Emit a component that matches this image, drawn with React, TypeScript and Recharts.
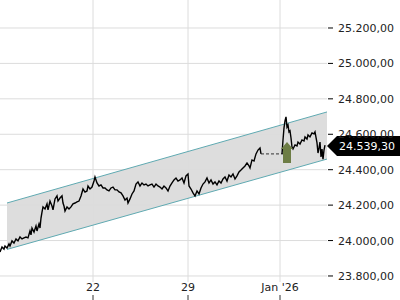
import React from 'react'
import {
  ComposedChart,
  Line,
  Area,
  XAxis,
  YAxis,
  ReferenceDot,
  ReferenceLine,
} from 'recharts'

// x axis: position in trading bars, with the day labels shown on it
const timeTicks = [93, 188, 280]
const timeLabels = ['22', '29', "Jan '26"]
const priceTicks = [23800, 24000, 24200, 24400, 24600, 24800, 25000, 25200]

// intraday quotes (null = market closed)
const times = [
  0, 2, 4, 5, 7, 9, 10, 12, 14, 16, 18, 20, 22, 24, 26, 28, 30, 31, 32, 34, 36, 37, 39, 40, 41, 42,
  43, 45, 47, 48, 50, 52, 53, 55, 57, 58, 60, 62, 63, 64, 65, 67, 69, 71, 73, 75, 77, 79, 81, 83,
  85, 87, 88, 90, 92, 94, 95, 97, 99, 101, 103, 105, 107, 109, 111, 113, 115, 117, 119, 121, 123,
  125, 127, 128, 130, 132, 134, 136, 138, 140, 142, 144, 146, 148, 150, 152, 154, 156, 158, 160,
  162, 164, 166, 168, 170, 172, 174, 176, 178, 180, 182, 184, 186, 188, 189, 191, 193, 195, 197,
  199, 201, 203, 205, 207, 209, 211, 213, 215, 217, 219, 221, 223, 225, 227, 229, 231, 233, 235,
  237, 239, 241, 243, 245, 247, 249, 250, 252, 254, 256, 258, 260, 261, 270, 282, 283, 284, 285,
  286, 287, 288, 289, 290, 291, 292, 293, 295, 297, 298, 300, 302, 304, 305, 307, 308, 310, 312,
  314, 315, 317, 318, 319, 320, 321, 322, 323, 324, 325,
]
const prices = [
  23936, 23964, 23952, 23969, 23958, 23981, 23969, 23998, 23986, 24009, 23998, 24020, 24009, 24015,
  24020, 24015, 24054, 24032, 24071, 24048, 24082, 24054, 24094, 24071, 24127, 24161, 24190, 24178,
  24207, 24173, 24223, 24195, 24173, 24235, 24252, 24223, 24240, 24252, 24212, 24195, 24167, 24190,
  24178, 24190, 24207, 24212, 24218, 24223, 24252, 24291, 24274, 24280, 24308, 24291, 24302, 24336,
  24359, 24325, 24308, 24314, 24297, 24297, 24286, 24280, 24297, 24302, 24286, 24286, 24274, 24269,
  24252, 24229, 24240, 24212, 24235, 24263, 24280, 24319, 24331, 24308, 24325, 24314, 24319, 24308,
  24314, 24319, 24302, 24319, 24308, 24302, 24291, 24308, 24297, 24280, 24308, 24325, 24342, 24353,
  24336, 24342, 24353, 24325, 24365, 24376, 24308, 24291, 24269, 24252, 24280, 24263, 24297, 24319,
  24331, 24353, 24325, 24342, 24319, 24331, 24314, 24336, 24325, 24348, 24359, 24336, 24370, 24359,
  24376, 24348, 24365, 24387, 24398, 24410, 24421, 24438, 24421, 24410, 24455, 24449, 24489, 24511,
  24523, 24489, null, 24489, 24568, 24636, 24675, 24698, 24641, 24652, 24613, 24619, 24579, 24528,
  24517, 24540, 24534, 24556, 24545, 24568, 24562, 24585, 24573, 24596, 24585, 24607, 24602, 24613,
  24551, 24494, 24523, 24556, 24472, 24517, 24460, 24511, 24539.3,
]

// regression channel
const channelTimes = [7, 327]
const channelUpper = [24212, 24726]
const channelLower = [23950, 24460]

// previous close carried over the holiday
const gapTimes = [261, 283]
const gapLevel = 24489

const markerTime = 287
const markerLevel = 24489
const lastPrice = 24539.3

const font = '"DejaVu Sans", Verdana, sans-serif'
const gridColor = '#dcdcdc'

const fmt = (v: number) => {
  const [i, d] = v.toFixed(2).split('.')
  return i.replace(/\B(?=(\d{3})+(?!\d))/g, '.') + ',' + d
}

const priceData = times.map((t, i) => ({ t, p: prices[i] }))
const channelData = channelTimes.map((t, i) => ({
  t,
  hi: channelUpper[i],
  lo: channelLower[i],
  band: [channelLower[i], channelUpper[i]],
}))
const gapData = gapTimes.map((t) => ({ t, g: gapLevel }))

const TimeTick = (props: any) => {
  const { x, y, payload } = props
  const label = timeLabels[timeTicks.indexOf(payload.value)]
  return (
    <g>
      <text x={x} y={y + 9} textAnchor="middle" fontSize={11} fill="#222" fontFamily={font}>
        {label}
      </text>
      <line x1={x} x2={x} y1={y + 13} y2={y + 18} stroke="#333" />
    </g>
  )
}

// dash + label, drawn together
const PriceTick = (props: any) => {
  const { x, y, payload } = props
  return (
    <g>
      <line x1={x + 1} x2={x + 6} y1={y} y2={y} stroke="#000" />
      <text x={x + 11} y={y + 4} textAnchor="start" fontSize={11} fill="#222" fontFamily={font}>
        {fmt(payload.value)}
      </text>
    </g>
  )
}

const UpMarker = (props: any) => {
  const { cx, cy } = props
  return (
    <path
      d={`M${cx},${cy - 12} L${cx + 6},${cy - 5} L${cx + 4},${cy - 5} L${cx + 4},${cy + 9} L${cx - 4},${cy + 9} L${cx - 4},${cy - 5} L${cx - 6},${cy - 5} Z`}
      fill="#6d7d45"
    />
  )
}

const PriceLabel = (props: any) => {
  const { cx, cy } = props
  return (
    <g>
      <path
        d={`M${cx},${cy + 1} L${cx + 10},${cy - 9} L400,${cy - 9} L400,${cy + 11} L${cx + 10},${cy + 11} Z`}
        fill="#000"
      />
      <text x={cx + 12} y={cy + 5} fontSize={11} fill="#fff" fontFamily={font}>
        {fmt(lastPrice)}
      </text>
    </g>
  )
}

export default function App() {
  return (
    <div style={{ position: 'absolute', left: 0, top: 0, width: 400, height: 300, background: '#fff' }}>
      <ComposedChart width={400} height={300} margin={{ top: 0, right: 0, bottom: 0, left: 0 }}>
        {priceTicks.map((v) => (
          <ReferenceLine key={`h${v}`} y={v} stroke={gridColor} />
        ))}
        {timeTicks.map((t) => (
          <ReferenceLine key={`v${t}`} x={t} stroke={gridColor} />
        ))}
        <XAxis
          dataKey="t"
          type="number"
          domain={[0, 327]}
          ticks={timeTicks}
          interval={0}
          allowDataOverflow
          axisLine={false}
          tickLine={false}
          tickSize={0}
          tickMargin={0}
          height={18}
          tick={<TimeTick />}
        />
        <YAxis
          orientation="right"
          type="number"
          domain={[23766, 25358]}
          ticks={priceTicks}
          interval={0}
          allowDataOverflow
          width={73}
          axisLine={false}
          tickLine={false}
          tickSize={0}
          tickMargin={0}
          tick={<PriceTick />}
        />
        <Area
          data={channelData}
          dataKey="band"
          type="linear"
          fill="#dddddd"
          fillOpacity={1}
          stroke="none"
          isAnimationActive={false}
        />
        <Line data={channelData} dataKey="hi" type="linear" stroke="#5fa9b1" strokeWidth={1} dot={false} activeDot={false} isAnimationActive={false} />
        <Line data={channelData} dataKey="lo" type="linear" stroke="#5fa9b1" strokeWidth={1} dot={false} activeDot={false} isAnimationActive={false} />
        <Line
          data={gapData}
          dataKey="g"
          type="linear"
          stroke="#555"
          strokeWidth={1.3}
          strokeDasharray="3 2"
          dot={false}
          activeDot={false}
          isAnimationActive={false}
        />
        <Line
          data={priceData}
          dataKey="p"
          type="linear"
          stroke="#000"
          strokeWidth={1.4}
          dot={false}
          activeDot={false}
          connectNulls={false}
          isAnimationActive={false}
        />
        <ReferenceDot x={markerTime} y={markerLevel} ifOverflow="visible" shape={UpMarker} />
        <ReferenceDot x={327} y={lastPrice} ifOverflow="visible" shape={PriceLabel} />
      </ComposedChart>
    </div>
  )
}
